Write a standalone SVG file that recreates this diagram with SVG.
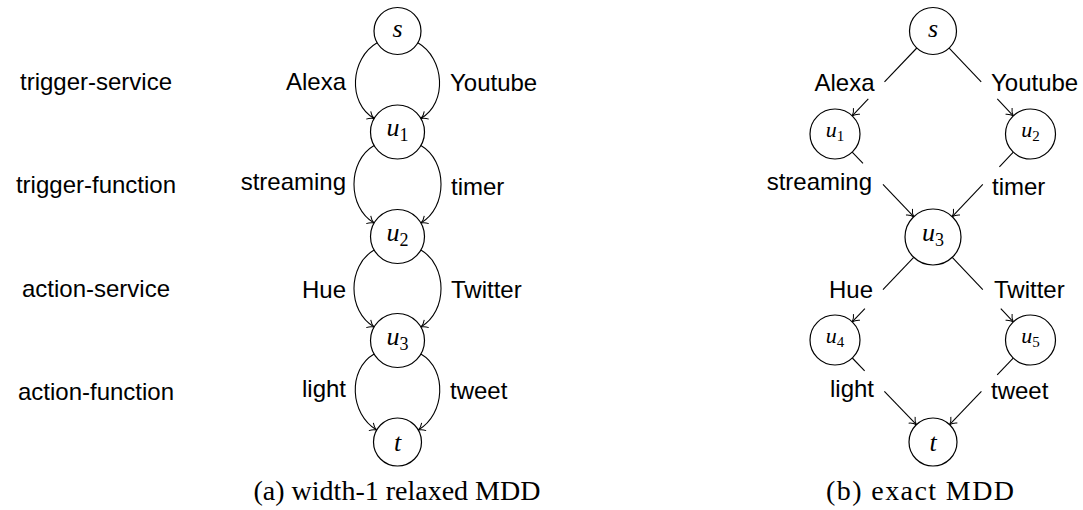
<svg xmlns="http://www.w3.org/2000/svg" width="1083" height="510" viewBox="0 0 1083 510">
<defs>
<style>
.nd circle{fill:#fff;stroke:#000;stroke-width:1.2}
.edge path,.edge line{fill:none;stroke:#000;stroke-width:1.1}
.lbl{font-family:"Liberation Sans",Arial,sans-serif;font-size:24px;fill:#000}
.math{font-family:"Liberation Serif","Times New Roman",serif;font-style:italic;font-size:26px;fill:#000}
.math .sub{font-style:normal;font-size:18px}
.mathS{font-family:"Liberation Serif","Times New Roman",serif;font-style:italic;font-size:22px;fill:#000}
.mathS .sub{font-style:normal;font-size:15px}
.cap{font-family:"Liberation Serif","Times New Roman",serif;font-size:28px;fill:#000}
</style>
<marker id="arr" markerUnits="userSpaceOnUse" markerWidth="14" markerHeight="14" viewBox="-8 -7 10 14" refX="0" refY="0" orient="auto">
<path d="M-6.5,-4.5 C-4.5,-2 -1.8,-0.5 0,0 C-1.8,0.5 -4.5,2 -6.5,4.5" fill="none" stroke="#000" stroke-width="1"/>
</marker>
</defs>

<!-- level labels -->
<g id="levels">
<text class="lbl" x="96" y="90" text-anchor="middle">trigger-service</text>
<text class="lbl" x="96" y="193" text-anchor="middle">trigger-function</text>
<text class="lbl" x="96" y="297" text-anchor="middle">action-service</text>
<text class="lbl" x="96" y="400" text-anchor="middle">action-function</text>
</g>

<!-- connectors -->
<g id="connectors" class="edge">
<!-- left diagram (a) -->
<path d="M377.15,42.75 C350.3,58.25 347.27,103 374.12,118.5" marker-end="url(#arr)"/>
<path d="M417.85,42.75 C444.7,58.25 447.73,103 420.88,118.5" marker-end="url(#arr)"/>
<path d="M374.12,145.5 C347.27,161 347.27,207.5 374.12,223" marker-end="url(#arr)"/>
<path d="M420.88,145.5 C447.73,161 447.73,207.5 420.88,223" marker-end="url(#arr)"/>
<path d="M374.12,250 C347.27,265.5 347.27,311.5 374.12,327" marker-end="url(#arr)"/>
<path d="M420.88,250 C447.73,265.5 447.73,311.5 420.88,327" marker-end="url(#arr)"/>
<path d="M374.12,354 C347.27,369.5 349.87,414.5 376.72,430" marker-end="url(#arr)"/>
<path d="M420.88,354 C447.73,369.5 445.13,414.5 418.28,430" marker-end="url(#arr)"/>
<!-- right diagram (b) -->
<line x1="916.8" y1="48" x2="884.5" y2="81.95"/>
<line x1="868.3" y1="98.95" x2="852.2" y2="115.9" marker-end="url(#arr)"/>
<line x1="949.15" y1="48.07" x2="981.2" y2="81.96"/>
<line x1="997.3" y1="98.96" x2="1013.3" y2="115.84" marker-end="url(#arr)"/>
<line x1="852.2" y1="152.1" x2="863" y2="163.4"/>
<line x1="882.95" y1="184.4" x2="913.7" y2="216.7" marker-end="url(#arr)"/>
<line x1="1013.3" y1="152.16" x2="999.4" y2="166.9"/>
<line x1="982.8" y1="184.4" x2="952.25" y2="216.67" marker-end="url(#arr)"/>
<line x1="913.7" y1="257.3" x2="882.95" y2="289.6"/>
<line x1="864.9" y1="308.6" x2="852.2" y2="321.9" marker-end="url(#arr)"/>
<line x1="952.25" y1="257.33" x2="982.8" y2="289.6"/>
<line x1="1000.8" y1="308.6" x2="1013.3" y2="321.84" marker-end="url(#arr)"/>
<line x1="852.3" y1="358" x2="864.65" y2="370.85"/>
<line x1="884.35" y1="391.35" x2="916.4" y2="424.7" marker-end="url(#arr)"/>
<line x1="1013.2" y1="358.07" x2="997.2" y2="374.9"/>
<line x1="981.4" y1="391.4" x2="949.6" y2="424.65" marker-end="url(#arr)"/>
</g>

<!-- edge labels -->
<g id="edge-labels">
<text class="lbl" x="346" y="90" text-anchor="end">Alexa</text>
<text class="lbl" x="450" y="91">Youtube</text>
<text class="lbl" x="346" y="190" text-anchor="end">streaming</text>
<text class="lbl" x="451" y="195">timer</text>
<text class="lbl" x="346" y="298" text-anchor="end">Hue</text>
<text class="lbl" x="451" y="298">Twitter</text>
<text class="lbl" x="346" y="397" text-anchor="end">light</text>
<text class="lbl" x="450" y="399">tweet</text>

<text class="lbl" x="874.5" y="91" text-anchor="end">Alexa</text>
<text class="lbl" x="991" y="91">Youtube</text>
<text class="lbl" x="872" y="190" text-anchor="end">streaming</text>
<text class="lbl" x="992" y="195">timer</text>
<text class="lbl" x="873" y="298" text-anchor="end">Hue</text>
<text class="lbl" x="994" y="298">Twitter</text>
<text class="lbl" x="874" y="397" text-anchor="end">light</text>
<text class="lbl" x="991" y="399">tweet</text>
</g>

<!-- nodes (a) -->
<g id="a-s" class="nd"><circle cx="397.5" cy="31" r="23.5"/><text class="math" x="397.5" y="37" text-anchor="middle">s</text></g>
<g id="a-u1" class="nd"><circle cx="397.5" cy="132" r="27"/><text class="math" x="397.5" y="136" text-anchor="middle">u<tspan class="sub" dy="5">1</tspan></text></g>
<g id="a-u2" class="nd"><circle cx="397.5" cy="236.5" r="27"/><text class="math" x="397.5" y="240.5" text-anchor="middle">u<tspan class="sub" dy="5">2</tspan></text></g>
<g id="a-u3" class="nd"><circle cx="397.5" cy="340.5" r="27"/><text class="math" x="397.5" y="344.5" text-anchor="middle">u<tspan class="sub" dy="5">3</tspan></text></g>
<g id="a-t" class="nd"><circle cx="397.5" cy="442" r="24"/><text class="math" x="397.5" y="451" text-anchor="middle">t</text></g>

<!-- nodes (b) -->
<g id="b-s" class="nd"><circle cx="933" cy="31" r="23.5"/><text class="math" x="933" y="37" text-anchor="middle">s</text></g>
<g id="b-u1" class="nd"><circle cx="835" cy="134" r="25"/><text class="mathS" x="835" y="137" text-anchor="middle">u<tspan class="sub" dy="4">1</tspan></text></g>
<g id="b-u2" class="nd"><circle cx="1030.5" cy="134" r="25"/><text class="mathS" x="1030.5" y="137" text-anchor="middle">u<tspan class="sub" dy="4">2</tspan></text></g>
<g id="b-u3" class="nd"><circle cx="933" cy="237" r="28"/><text class="math" x="933" y="241" text-anchor="middle">u<tspan class="sub" dy="5">3</tspan></text></g>
<g id="b-u4" class="nd"><circle cx="835" cy="340" r="25"/><text class="mathS" x="835" y="343" text-anchor="middle">u<tspan class="sub" dy="4">4</tspan></text></g>
<g id="b-u5" class="nd"><circle cx="1030.5" cy="340" r="25"/><text class="mathS" x="1030.5" y="343" text-anchor="middle">u<tspan class="sub" dy="4">5</tspan></text></g>
<g id="b-t" class="nd"><circle cx="933" cy="442" r="24"/><text class="math" x="933" y="451" text-anchor="middle">t</text></g>

<!-- captions -->
<g id="captions">
<text class="cap" x="397" y="500" text-anchor="middle">(a) width-1 relaxed MDD</text>
<text class="cap" x="920" y="500" text-anchor="middle" textLength="188" lengthAdjust="spacing">(b) exact MDD</text>
</g>
</svg>
